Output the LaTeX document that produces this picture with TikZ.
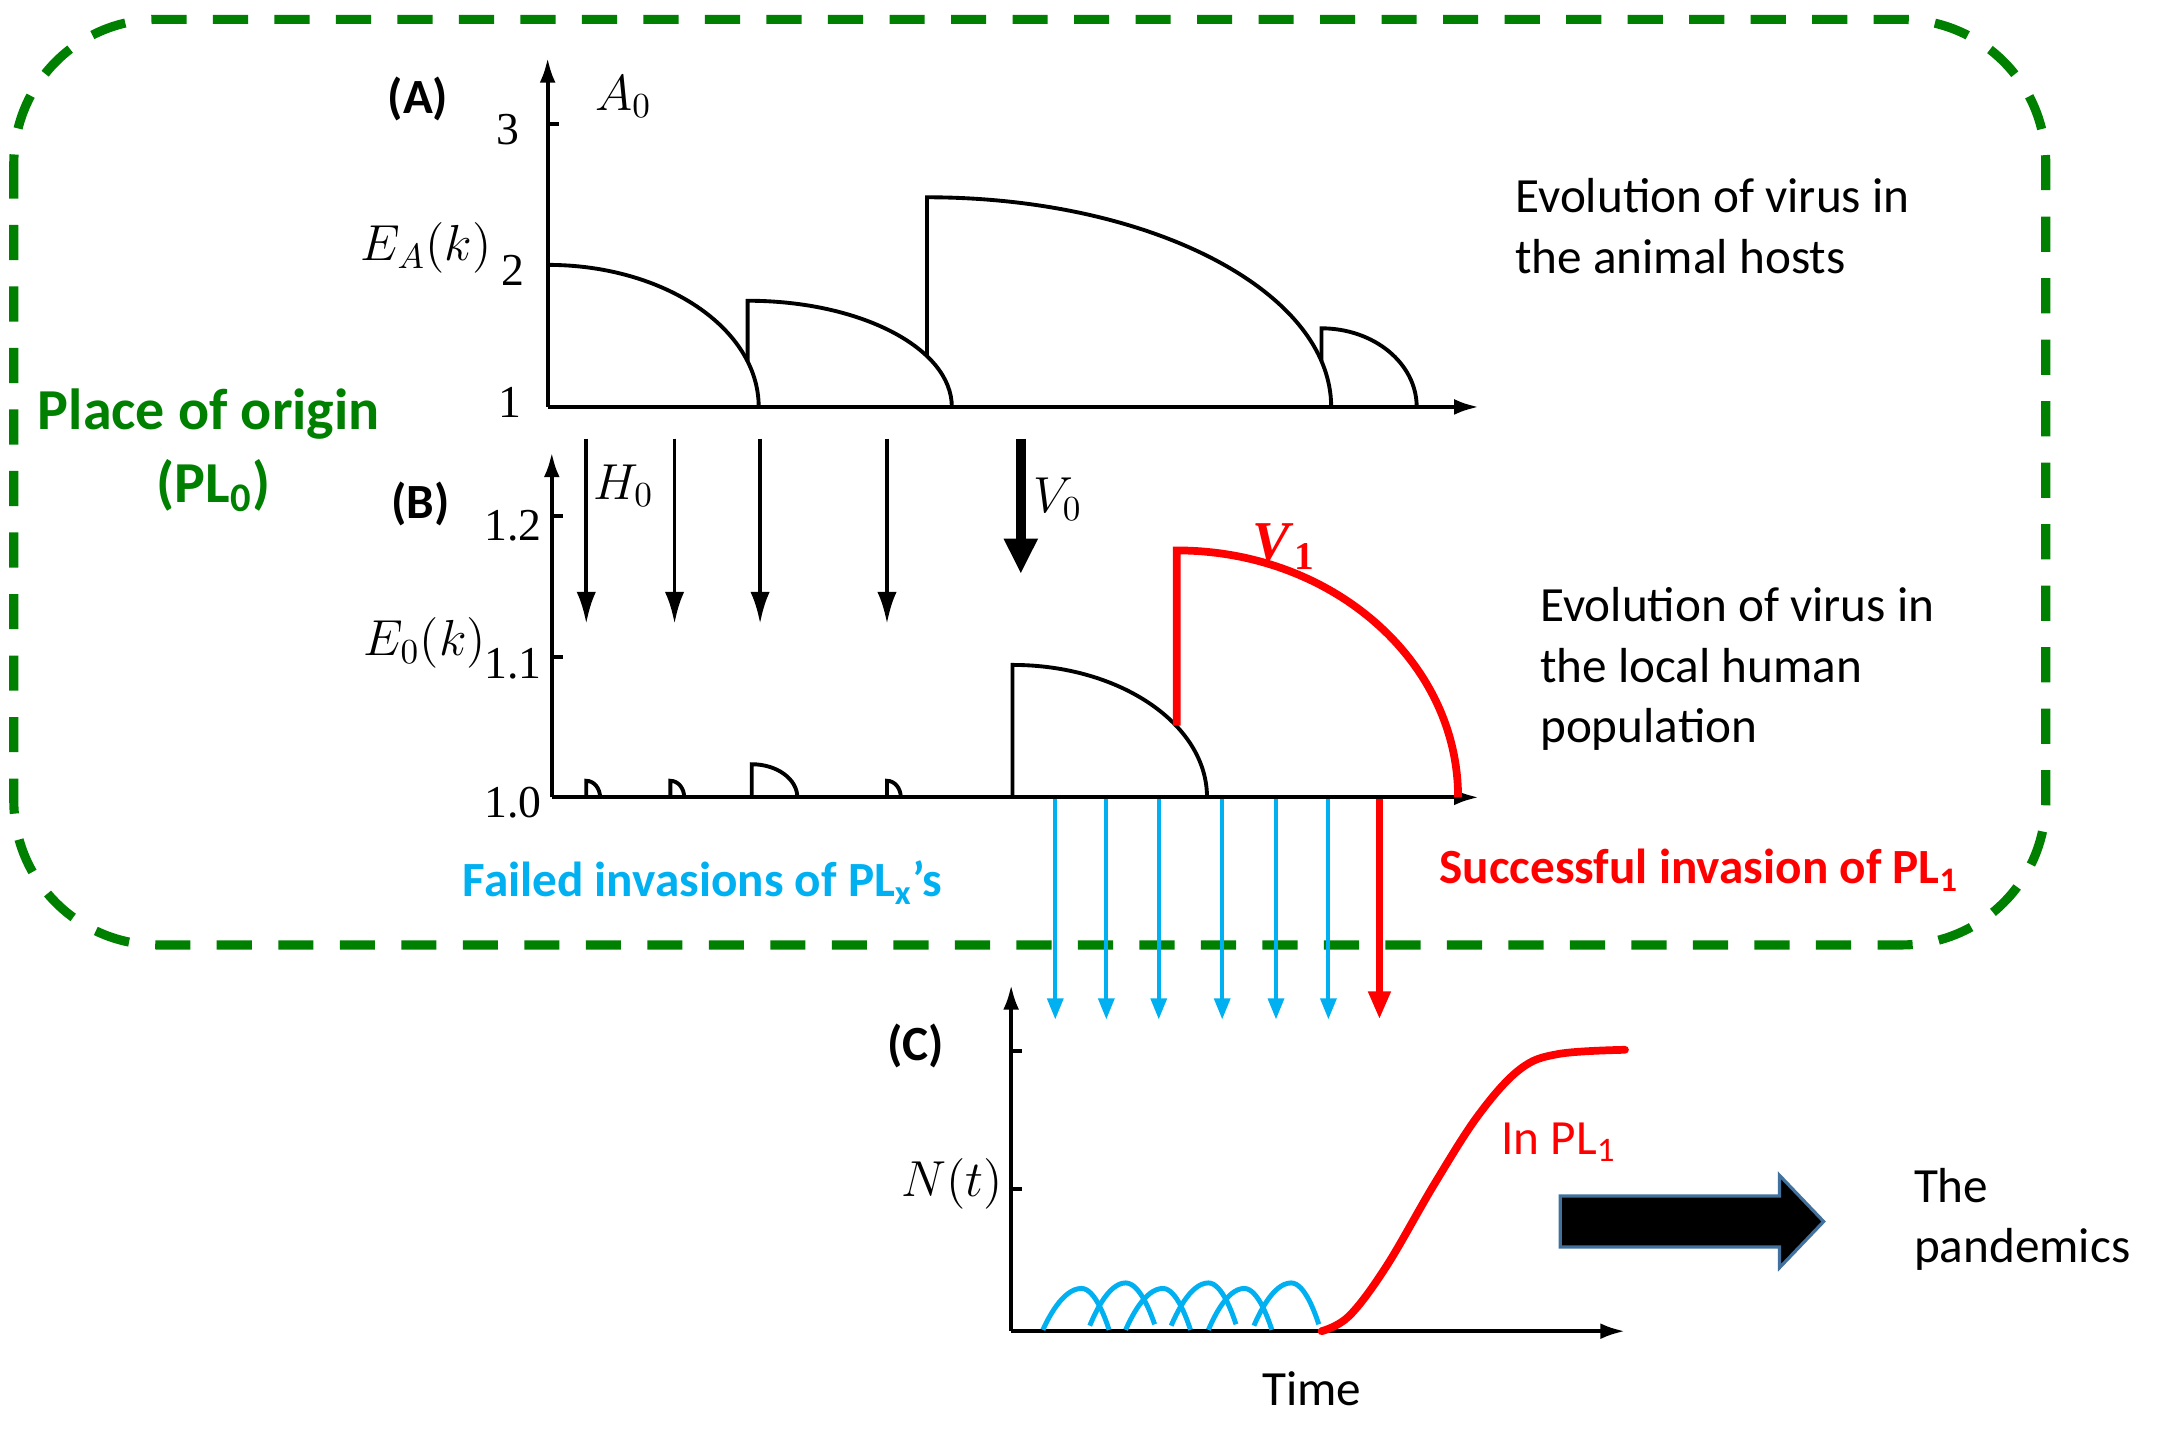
\documentclass[tikz,border=0pt]{standalone}
\usepackage{fontspec}
\setmainfont{Carlito}
\newfontfamily\timesf{Liberation Serif}
\usetikzlibrary{arrows.meta}
\definecolor{pgreen}{RGB}{0,128,0}
\definecolor{pblue}{RGB}{0,176,240}
\definecolor{pred}{RGB}{255,0,0}
\definecolor{pedge}{RGB}{65,113,156}
\begin{document}
\begin{tikzpicture}[x=0.013795cm,y=-0.013795cm,
  every node/.style={inner sep=0pt, font=\fontsize{14}{17.2}\selectfont},
  axisline/.style={line width=1.1pt, -{Latex[length=7pt,width=4.5pt]}},
  curveline/.style={line width=1.1pt, line join=miter},
  redcurve/.style={line width=2.2pt, pred, line join=miter},
  harrow/.style={line width=1.1pt, -{Latex[length=9pt,width=5.5pt]}},
  varrow/.style={line width=2.8pt, -{Triangle[length=10pt,width=9pt]}},
  bluearrow/.style={line width=1.1pt, pblue, -{Triangle[length=6pt,width=4.5pt]}},
  redarrow/.style={line width=2pt, pred, -{Triangle[length=8pt,width=6pt]}},
  bluebump/.style={line width=1.4pt, pblue},
  ticklab/.style={font=\timesf\fontsize{13}{15}\selectfont},
  panel/.style={font=\bfseries\fontsize{14}{17.2}\selectfont},
  frame/.style={pgreen, line width=2.6pt, dash pattern=on 10pt off 7.5pt, rounded corners=41pt}
]
\useasboundingbox (0,0) rectangle (1568,1051);

% green dashed frame
\draw[frame] (10,14) rectangle (1483,685);

% ---------- Panel A ----------
\coordinate (Ao) at (397,295);
\coordinate (Ay) at (397,42);
\coordinate (Ax) at (1072,295);
\draw[axisline] (Ao) -- (Ay);
\draw[axisline] (Ao) -- (Ax);
\draw[line width=1.1pt] (397,90) -- (405,90);
\node[panel] (lA) at (303,72) {(A)};
\node (A0) at (452,70) {$A_0$};
\node (EA) at (309,180) {$E_A(k)$};
\node[ticklab] (t3) at (368,94) {3};
\node[ticklab] (t2) at (372,196) {2};
\node[ticklab] (t1) at (370,292) {1};
\draw[curveline] (397,192) arc[start angle=-90,end angle=0,x radius=153,y radius=103];
\draw[curveline] (542,262) -- (542,218) arc[start angle=-90,end angle=0,x radius=148,y radius=77];
\draw[curveline] (672,258) -- (672,143) arc[start angle=-90,end angle=0,x radius=293,y radius=152];
\draw[curveline] (958,262) -- (958,238) arc[start angle=-90,end angle=0,x radius=69,y radius=57];

\node (evoA) [anchor=west, align=left] at (1098,164) {Evolution of virus in\\the animal hosts};

% ---------- Panel B ----------
\coordinate (Bo) at (400,578);
\coordinate (By) at (400,328);
\coordinate (Bx) at (1072,578);
\draw[axisline] (Bo) -- (By);
\draw[axisline] (Bo) -- (Bx);
\draw[line width=1.1pt] (400,374) -- (408,374);
\draw[line width=1.1pt] (400,476) -- (408,476);
\node[panel] (lB) at (305,365) {(B)};
\node (H0) at (452,352) {$H_0$};
\node (E0) at (308,466) {$E_0(k)$};
\node[ticklab] (t12) at (372,381) {1.2};
\node[ticklab] (t11) at (372,481) {1.1};
\node[ticklab] (t10) at (372,582) {1.0};

\foreach \xx [count=\i] in {425,489,551,643}{
  \coordinate (hs\i) at (\xx,318);
  \coordinate (he\i) at (\xx,452);
  \draw[harrow] (hs\i) -- (he\i);
}
\coordinate (vs) at (740,318);
\coordinate (ve) at (740,416);
\draw[varrow] (vs) -- (ve);
\node (V0) at (767,362) {$V_0$};

\draw[curveline] (425,578) -- (425,566) arc[start angle=-90,end angle=0,x radius=10,y radius=12];
\draw[curveline] (486,578) -- (486,566) arc[start angle=-90,end angle=0,x radius=10,y radius=12];
\draw[curveline] (545,578) -- (545,554) arc[start angle=-90,end angle=0,x radius=33,y radius=24];
\draw[curveline] (643,578) -- (643,566) arc[start angle=-90,end angle=0,x radius=10,y radius=12];
\draw[curveline] (734,578) -- (734,482) arc[start angle=-90,end angle=0,x radius=141,y radius=96];
\draw[redcurve] (853,526) -- (853,399) arc[start angle=-90,end angle=0,x radius=204,y radius=179];
\node (V1) [text=pred, font=\timesf\bfseries\fontsize{16}{18}\selectfont] at (931,396) {\textit{V}\textsubscript{1}};

\node (evoB) [anchor=west, align=left] at (1116,485) {Evolution of virus in\\the local human\\population};

% invasion arrows
\foreach \xx [count=\i] in {765,802,840,886,925,963}{
  \coordinate (bs\i) at (\xx,579);
  \coordinate (be\i) at (\xx,739);
  \draw[bluearrow] (bs\i) -- (be\i);
}
\coordinate (rs) at (1000,579);
\coordinate (re) at (1000,739);
\draw[redarrow] (rs) -- (re);

\node (succ) [anchor=west, text=pred, font=\bfseries\fontsize{14}{17.2}\selectfont] at (1043,631) {Successful invasion of PL\textsubscript{1}};
\node (fail) [anchor=west, text=pblue, font=\bfseries\fontsize{14}{17.2}\selectfont] at (335,640) {Failed invasions of PL\textsubscript{x}’s};
\node (orig) [anchor=west, text=pgreen, font=\bfseries\fontsize{16.5}{20}\selectfont] at (27,300) {Place of origin};
\node (pl0) [text=pgreen, font=\bfseries\fontsize{16.5}{20}\selectfont] at (155,352) {(PL\textsubscript{0})};

% ---------- Panel C ----------
\coordinate (Co) at (733,965);
\coordinate (Cy) at (733,714);
\coordinate (Cx) at (1178,965);
\draw[axisline] (Co) -- (Cy);
\draw[axisline] (Co) -- (Cx);
\draw[line width=1.1pt] (733,762) -- (741,762);
\draw[line width=1.1pt] (733,862) -- (741,862);
\node[panel] (lC) at (664,758) {(C)};
\node (Nt) at (690,858) {$N(t)$};
\node (time) at (951,1007) {Time};

\draw[bluebump] (756,964) parabola bend (784,934) (804,964);
\draw[bluebump] (790,961) parabola bend (816,930) (837,960);
\draw[bluebump] (816,964) parabola bend (843,934) (863,964);
\draw[bluebump] (849,961) parabola bend (876,930) (896,960);
\draw[bluebump] (876,964) parabola bend (902,934) (922,964);
\draw[bluebump] (909,961) parabola bend (936,930) (956,960);

\draw[redcurve, line cap=round] plot[smooth, tension=0.6] coordinates {(958,965) (978,954) (1005,918) (1040,858) (1072,808) (1102,775) (1130,764) (1178,761)};
\node (inpl) [anchor=west, text=pred] at (1088,828) {In PL\textsubscript{1}};

% big arrow
\draw[fill=black, draw=pedge, line width=0.9pt] (1131,867) -- (1290,867) -- (1290,852) -- (1322,885.5) -- (1290,919) -- (1290,904) -- (1131,904) -- cycle;
\node (pand) [anchor=west, align=left] at (1387,884) {The\\pandemics};
\end{tikzpicture}
\end{document}
